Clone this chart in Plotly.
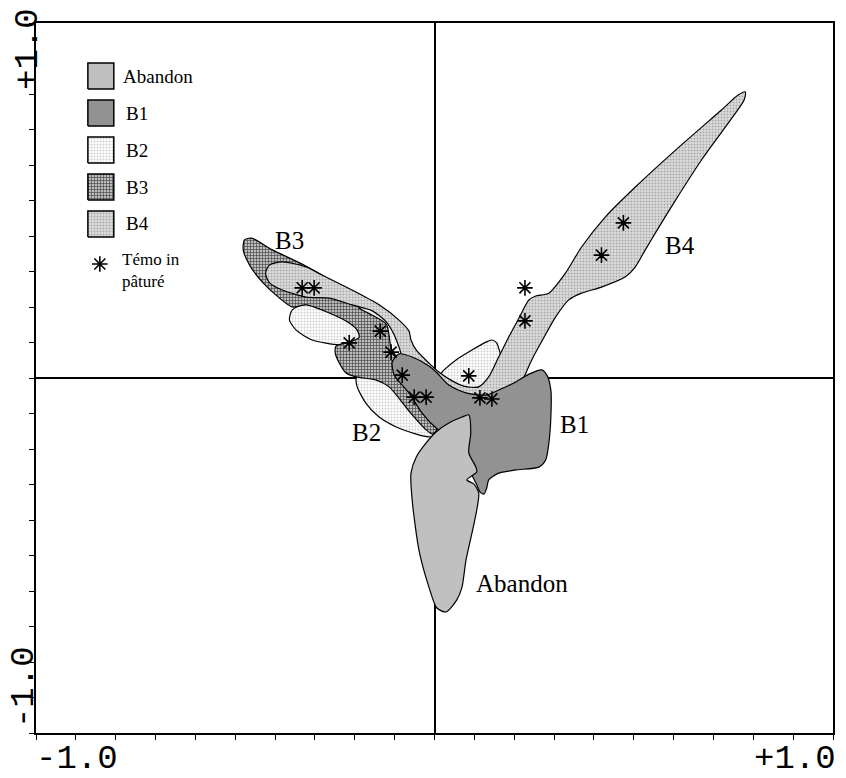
import plotly.graph_objects as go

# ---------------------------------------------------------------------------
# Ordination envelopes (axis 1 / axis 2 scores) for each treatment
# ---------------------------------------------------------------------------
GROUPS = ["Abandon", "B1", "B2", "B3", "B4"]

ABANDON_X = [0.086, 0.091, 0.086, 0.104, 0.106, 0.081, 0.099, 0.111, 0.106, 0.094, 0.079, 0.069,
             0.056, 0.029, 0.006, -0.014, -0.039, -0.056, -0.059, -0.046, -0.021, 0.004, 0.036, 0.069]
ABANDON_Y = [-0.104, -0.155, -0.211, -0.251, -0.265, -0.287, -0.299, -0.324, -0.372, -0.437, -0.513, -0.589,
             -0.625, -0.659, -0.648, -0.589, -0.485, -0.344, -0.268, -0.223, -0.183, -0.152, -0.127, -0.110]

B1_X = [-0.106, -0.089, -0.056, -0.014, 0.004, 0.036, 0.079, 0.129, 0.161, 0.199, 0.237, 0.269, 0.282,
        0.292, 0.292, 0.287, 0.279, 0.262, 0.204, 0.161, 0.136, 0.131, 0.124, 0.114, 0.106, 0.081,
        0.049, 0.004, -0.031, -0.064, -0.101]
B1_Y = [0.045, 0.068, 0.059, 0.034, 0.017, -0.020, -0.042, -0.048, -0.034, -0.014, 0.011, 0.023, 0.008,
        -0.034, -0.110, -0.183, -0.231, -0.251, -0.259, -0.268, -0.287, -0.310, -0.327, -0.321, -0.301,
        -0.245, -0.175, -0.141, -0.099, -0.042, 0.008]

B2_X = [-0.364, -0.357, -0.322, -0.264, -0.214, -0.189, -0.126, -0.094, -0.079, -0.059, 0.004, 0.024,
        0.054, 0.094, 0.129, 0.144, 0.156, 0.164, 0.174, 0.174, 0.111, 0.049, 0.011, -0.014, -0.046,
        -0.096, -0.139, -0.171, -0.194, -0.196, -0.164, -0.214, -0.239, -0.307, -0.347]
B2_Y = [0.163, 0.192, 0.208, 0.194, 0.169, 0.211, 0.186, 0.141, 0.093, 0.051, 0.000, 0.023,
        0.051, 0.079, 0.101, 0.107, 0.099, 0.073, 0.037, -0.020, -0.076, -0.132, -0.163, -0.166, -0.158,
        -0.138, -0.110, -0.073, -0.025, 0.003, 0.051, 0.093, 0.093, 0.107, 0.135]

B3_X = [-0.477, -0.459, -0.407, -0.322, -0.239, -0.214, -0.189, -0.156, -0.121, -0.114, -0.109, -0.089,
        -0.059, -0.026, 0.004, 0.004, -0.006, -0.021, -0.064, -0.114, -0.146, -0.196, -0.222, -0.239,
        -0.249, -0.247, -0.214, -0.189, -0.194, -0.214, -0.264, -0.322, -0.357, -0.389, -0.432, -0.464, -0.480]
B3_Y = [0.389, 0.394, 0.361, 0.315, 0.259, 0.237, 0.197, 0.177, 0.152, 0.121, 0.085, 0.051,
        0.017, -0.048, -0.130, -0.149, -0.158, -0.146, -0.093, -0.025, -0.006, 0.003, 0.014, 0.042,
        0.070, 0.090, 0.101, 0.115, 0.135, 0.155, 0.183, 0.206, 0.200, 0.225, 0.270, 0.318, 0.361]

B4_X = [-0.424, -0.414, -0.382, -0.322, -0.282, -0.207, -0.139, -0.089, -0.064, -0.059, -0.046, -0.014,
        0.011, 0.041, 0.074, 0.111, 0.136, 0.161, 0.186, 0.212, 0.237, 0.254, 0.287, 0.329, 0.369,
        0.429, 0.504, 0.605, 0.720, 0.762, 0.780, 0.777, 0.737, 0.670, 0.605, 0.554, 0.529, 0.504,
        0.479, 0.419, 0.369, 0.337, 0.304, 0.274, 0.244, 0.224, 0.217, 0.186, 0.129, 0.079, 0.036,
        0.004, -0.014, -0.051, -0.081, -0.089, -0.101, -0.121, -0.156, -0.207, -0.264, -0.322, -0.382, -0.414]
B4_Y = [0.296, 0.318, 0.327, 0.313, 0.290, 0.248, 0.206, 0.163, 0.132, 0.107, 0.079, 0.042,
        0.017, -0.006, -0.023, -0.025, 0.003, 0.059, 0.115, 0.169, 0.220, 0.231, 0.239, 0.296, 0.369,
        0.454, 0.538, 0.642, 0.755, 0.797, 0.806, 0.783, 0.718, 0.614, 0.501, 0.408, 0.361, 0.313,
        0.285, 0.256, 0.239, 0.220, 0.172, 0.113, 0.051, 0.000, -0.020, -0.056, -0.062, -0.054, -0.034,
        0.003, 0.023, 0.045, 0.062, 0.087, 0.121, 0.158, 0.189, 0.206, 0.225, 0.228, 0.248, 0.268]

# Grazed control plots ("Témoin pâturé")
TEMOIN_X = [-0.332, -0.302, -0.136, -0.214, -0.109, -0.081, -0.051, -0.021, 0.086, 0.114, 0.144,
            0.227, 0.227, 0.419, 0.474]
TEMOIN_Y = [0.254, 0.254, 0.132, 0.099, 0.073, 0.008, -0.054, -0.054, 0.006, -0.056, -0.059,
            0.254, 0.161, 0.346, 0.437]

AXIS_MIN, AXIS_MAX = -1.0, 1.0
AXIS_TEXT = ["-1.0", "+1.0"]

ENVELOPES = {
    "Abandon": (ABANDON_X, ABANDON_Y),
    "B1": (B1_X, B1_Y),
    "B2": (B2_X, B2_Y),
    "B3": (B3_X, B3_Y),
    "B4": (B4_X, B4_Y),
}

# ---------------------------------------------------------------------------
# Styling
# ---------------------------------------------------------------------------
STYLE = {
    "Abandon": dict(fillcolor="#c0c0c0"),
    "B1": dict(fillcolor="#929292"),
    "B2": dict(fillcolor="#f6f6f6",
               fillpattern=dict(shape=".", size=3, solidity=0.35, fgcolor="#cfcfcf",
                                bgcolor="#ffffff", fillmode="replace")),
    "B3": dict(fillcolor="#909090",
               fillpattern=dict(shape="+", size=3, solidity=0.35, fgcolor="#3a3a3a",
                                bgcolor="#bdbdbd", fillmode="replace")),
    "B4": dict(fillcolor="#d0d0d0",
               fillpattern=dict(shape=".", size=3, solidity=0.35, fgcolor="#a8a8a8",
                                bgcolor="#dedede", fillmode="replace")),
}
DRAW_ORDER = ["B2", "B3", "B4", "B1", "Abandon"]

SERIF = "Liberation Serif, Times New Roman, serif"
MONO = "Liberation Mono, Courier New, monospace"

W, H = 846, 778
PLOT_L, PLOT_R, PLOT_T, PLOT_B = 36, 835, 23, 733


def ax_x(px):
    return AXIS_MIN + (AXIS_MAX - AXIS_MIN) * (px - PLOT_L) / (PLOT_R - PLOT_L)


def ax_y(py):
    return AXIS_MAX - (AXIS_MAX - AXIS_MIN) * (py - PLOT_T) / (PLOT_B - PLOT_T)


def paper_x(px):
    return (px - PLOT_L) / (PLOT_R - PLOT_L)


def paper_y(py):
    return (PLOT_B - py) / (PLOT_B - PLOT_T)


STAR = dict(symbol="asterisk-open", size=13, color="black", line=dict(color="black", width=1.6))

fig = go.Figure()

for name in DRAW_ORDER:
    xs, ys = ENVELOPES[name]
    fig.add_trace(go.Scatter(
        x=list(xs) + [xs[0]], y=list(ys) + [ys[0]],
        mode="lines", fill="toself", line=dict(color="black", width=1.2, shape="spline", smoothing=0.7),
        hoverinfo="skip", showlegend=False, **STYLE[name]))

fig.add_trace(go.Scatter(x=TEMOIN_X, y=TEMOIN_Y, mode="markers", marker=STAR,
                         showlegend=False, hoverinfo="skip"))

# Envelope labels
LABEL_POS = {"B3": (-0.364, 0.386), "B4": (0.616, 0.372), "B2": (-0.170, -0.154),
             "B1": (0.352, -0.130), "Abandon": (0.220, -0.579)}
for name, (lx, ly) in LABEL_POS.items():
    fig.add_annotation(x=lx, y=ly, text=name, showarrow=False, xanchor="center", yanchor="middle",
                       font=dict(family=SERIF, size=25, color="black"))

# Legend box: swatches + labels
for i, name in enumerate(GROUPS):
    cy = 76 + 37 * i
    x0, x1 = ax_x(88), ax_x(114)
    y0, y1 = ax_y(cy + 13), ax_y(cy - 13)
    fig.add_trace(go.Scatter(
        x=[x0, x1, x1, x0, x0], y=[y0, y0, y1, y1, y0], mode="lines", fill="toself",
        line=dict(color="black", width=1.5), hoverinfo="skip", showlegend=False, **STYLE[name]))
    fig.add_annotation(xref="paper", yref="paper", x=paper_x(121 if i == 0 else 124), y=paper_y(cy),
                       text=name, showarrow=False, xanchor="left", yanchor="middle",
                       font=dict(family=SERIF, size=19, color="black"))

fig.add_trace(go.Scatter(x=[ax_x(100)], y=[ax_y(264)], mode="markers", marker=STAR,
                         showlegend=False, hoverinfo="skip"))
fig.add_annotation(xref="paper", yref="paper", x=paper_x(120), y=paper_y(270),
                   text="Témo in<br>pâturé", showarrow=False, xanchor="left", yanchor="middle",
                   align="left", font=dict(family=SERIF, size=17, color="black"))

# Axis end labels
fig.add_annotation(xref="paper", yref="paper", x=paper_x(34), y=paper_y(759), text=AXIS_TEXT[0],
                   showarrow=False, xanchor="left", yanchor="middle",
                   font=dict(family=MONO, size=34, color="black"))
fig.add_annotation(xref="paper", yref="paper", x=paper_x(840), y=paper_y(759), text=AXIS_TEXT[1],
                   showarrow=False, xanchor="right", yanchor="middle",
                   font=dict(family=MONO, size=34, color="black"))
fig.add_annotation(xref="paper", yref="paper", x=paper_x(28), y=paper_y(49), text=AXIS_TEXT[1],
                   showarrow=False, xanchor="center", yanchor="middle", textangle=-90,
                   font=dict(family=MONO, size=34, color="black"))
fig.add_annotation(xref="paper", yref="paper", x=paper_x(24), y=paper_y(687), text=AXIS_TEXT[0],
                   showarrow=False, xanchor="center", yanchor="middle", textangle=-90,
                   font=dict(family=MONO, size=34, color="black"))

axis_common = dict(range=[AXIS_MIN, AXIS_MAX], showgrid=False, zeroline=True, zerolinecolor="black",
                   zerolinewidth=2, showline=True, linecolor="black", linewidth=2, mirror=True,
                   ticks="outside", ticklen=5, tickwidth=1, tickcolor="black", tick0=AXIS_MIN, dtick=0.1,
                   showticklabels=False, fixedrange=True)

fig.update_layout(
    width=W, height=H,
    margin=dict(l=PLOT_L, r=W - PLOT_R, t=PLOT_T, b=H - PLOT_B, pad=0),
    paper_bgcolor="white", plot_bgcolor="white",
    xaxis=axis_common, yaxis=axis_common,
    showlegend=False,
)

fig.write_html("out.html")
